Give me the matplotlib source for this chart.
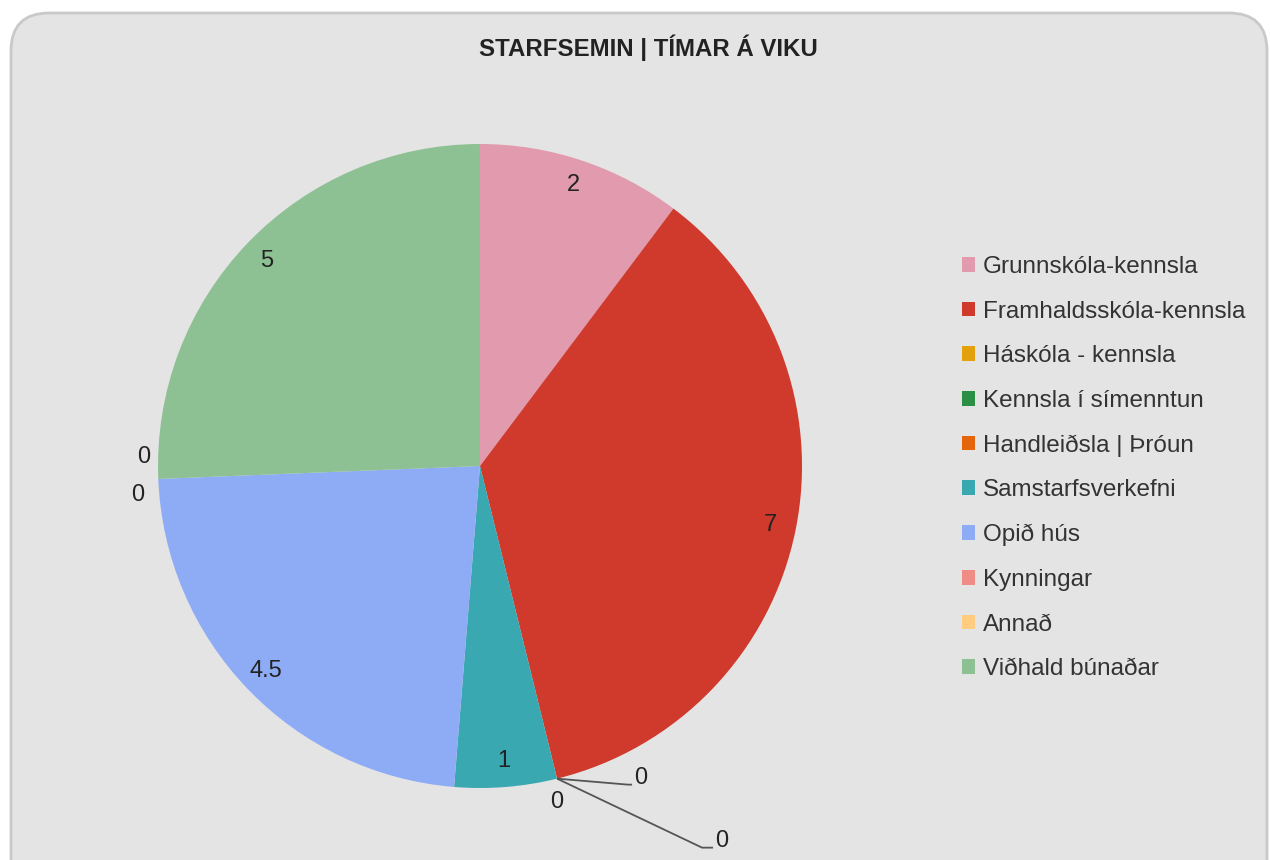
import numpy as np
import matplotlib.pyplot as plt
from matplotlib.patches import FancyBboxPatch, Patch

plt.rcParams['font.family'] = ['Liberation Sans', 'DejaVu Sans']

# Gögn
flokkar = ["Grunnskóla-kennsla", "Framhaldsskóla-kennsla", "Háskóla - kennsla",
           "Kennsla í símenntun", "Handleiðsla | Þróun", "Samstarfsverkefni",
           "Opið hús", "Kynningar", "Annað", "Viðhald búnaðar"]
timar = [2, 7, 0, 0, 0, 1, 4.5, 0, 0, 5]
litir = ["#e19aae", "#cf3a2c", "#e3a20c", "#2b8f45", "#e5650d", "#3aa8b1",
         "#8eacf6", "#ef8c86", "#ffcc80", "#8dc194"]
titill = "STARFSEMIN | TÍMAR Á VIKU"

texti_litur = "#222222"

fig = plt.figure(figsize=(12.7, 8.6), dpi=100, facecolor="white")

# Grár rammi með rúnuðum hornum
bakgrunnur = FancyBboxPatch((11 / 1270, -0.05), 1256 / 1270, 1.05 - 13 / 860,
                            boxstyle="round,pad=0,rounding_size=0.03",
                            transform=fig.transFigure, facecolor="#e4e4e4",
                            edgecolor="#c9c9c9", linewidth=2, mutation_aspect=1270 / 860,
                            zorder=-10)
fig.patches.append(bakgrunnur)

fig.text(648 / 1270, 1 - 48 / 860, titill, ha="center", va="center",
         fontsize=17.3, fontweight="bold", color=texti_litur)

# Kakan: miðja (480, 466) px, radíus 322 px
r_px = 322
half = 400
ax = fig.add_axes([(480 - half) / 1270, (394 - half) / 860, 2 * half / 1270, 2 * half / 860])
lim = half / r_px
ax.set_aspect("equal")
ax.axis("off")

merki = [f"{v:g}" if v > 0 else "" for v in timar]
wedges, texts = ax.pie(timar, colors=litir, startangle=90, counterclock=False,
                       labels=merki, labeldistance=0.92, radius=1,
                       wedgeprops=dict(linewidth=0),
                       textprops=dict(fontsize=17, color=texti_litur, ha="center", va="center"))
ax.set_xlim(-lim, lim)
ax.set_ylim(-lim, lim)

# Merki fyrir núll-sneiðar (hliðranir í px frá brún sneiðar, y upp)
heild = sum(timar)
uppsafnad = np.cumsum([0] + timar[:-1])
px = 1 / r_px
hlidranir = {
    2: ((77, 1), [(71, -6), (75, -6)]),
    3: ((0, -23), None),
    4: ((158, -62), [(145, -69), (156, -69)]),
    7: ((-15, 22), None),
    8: ((-21, -16), None),
}
for i, (texti_hl, lina) in hlidranir.items():
    horn = np.deg2rad(90 - uppsafnad[i] / heild * 360)
    x0, y0 = np.cos(horn), np.sin(horn)
    tx, ty = x0 + texti_hl[0] * px, y0 + texti_hl[1] * px
    if lina is None:
        ax.text(tx, ty, "0", ha="center", va="center", fontsize=17, color=texti_litur)
    else:
        xs = [x0] + [x0 + p[0] * px for p in lina]
        ys = [y0] + [y0 + p[1] * px for p in lina]
        ax.plot(xs, ys, color="#555555", lw=1.3, clip_on=False, solid_capstyle="butt")
        ax.text(tx, ty, "0", ha="left", va="center", fontsize=17, color=texti_litur)

handles = [Patch(facecolor=c, edgecolor="none") for c in litir]
fig.legend(handles, flokkar, loc="upper left", bbox_to_anchor=(962 / 1270, 1 - 256 / 860),
           frameon=False, fontsize=17.5, labelcolor="#333333", handlelength=0.55,
           handleheight=0.55, handletextpad=0.3, labelspacing=0.93,
           borderpad=0, borderaxespad=0)

fig.savefig("out.png", dpi=100, facecolor=fig.get_facecolor())
